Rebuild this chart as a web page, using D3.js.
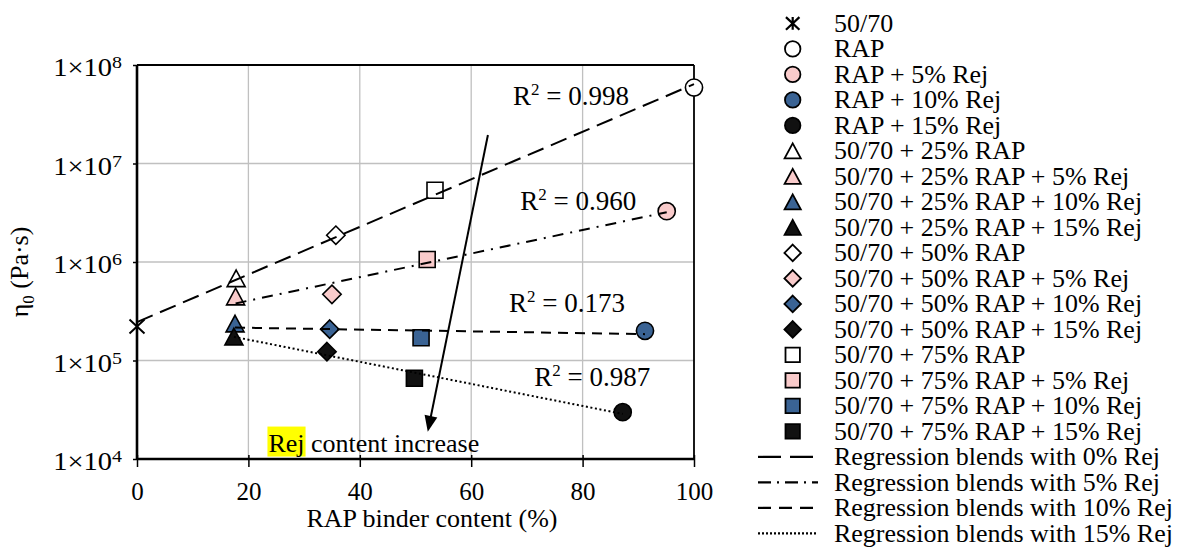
<!DOCTYPE html>
<html>
<head>
<meta charset="utf-8">
<script src="https://cdnjs.cloudflare.com/ajax/libs/d3/7.8.5/d3.min.js"></script>
<style>
  body { margin: 0; background: #fff; }
  svg, svg text, svg tspan { font-family: 'Liberation Serif', 'Times New Roman', 'DejaVu Serif', serif; fill: #000; }
</style>
</head>
<body>
<div id="chart"></div>
<script>
// one point per blend
var seriesLabels = [
  '50/70', 'RAP', 'RAP + 5% Rej', 'RAP + 10% Rej', 'RAP + 15% Rej',
  '50/70 + 25% RAP', '50/70 + 25% RAP + 5% Rej', '50/70 + 25% RAP + 10% Rej', '50/70 + 25% RAP + 15% Rej',
  '50/70 + 50% RAP', '50/70 + 50% RAP + 5% Rej', '50/70 + 50% RAP + 10% Rej', '50/70 + 50% RAP + 15% Rej',
  '50/70 + 75% RAP', '50/70 + 75% RAP + 5% Rej', '50/70 + 75% RAP + 10% Rej', '50/70 + 75% RAP + 15% Rej'
];
var rapBinder = [0, 100, 95.1, 91.2, 87.2, 17.8, 17.7, 17.6, 17.4, 35.7, 35.0, 34.6, 34.1, 53.5, 52.1, 51.0, 49.8];
var eta0 = [2.21e5, 5.9e7, 3.28e6, 2.0e5, 2.99e4, 6.83e5, 4.46e5, 2.37e5, 1.75e5, 1.87e6, 4.7e5, 2.08e5, 1.23e5, 5.36e6, 1.06e6, 1.7e5, 6.6e4];
var rejContent = [0, 0, 5, 10, 15, 0, 5, 10, 15, 0, 5, 10, 15, 0, 5, 10, 15];
var blendType = ['binder', 'rap', 'rap', 'rap', 'rap', 'rap25', 'rap25', 'rap25', 'rap25',
  'rap50', 'rap50', 'rap50', 'rap50', 'rap75', 'rap75', 'rap75', 'rap75'];

var regressionRej = [0, 5, 10, 15];
var regressionLabels = ['Regression blends with 0% Rej', 'Regression blends with 5% Rej',
  'Regression blends with 10% Rej', 'Regression blends with 15% Rej'];
var r2Text = ['0.998', '0.960', '0.173', '0.987'];

var xTicks = [0, 20, 40, 60, 80, 100];
var yTickExp = [4, 5, 6, 7, 8];

// annotation placement, in data units
var r2At = [[67.5, 3.93e7], [68.8, 3.36e6], [66.8, 3.12e5], [71.3, 5.45e4]];
var arrowFrom = [63.0, 1.95e7], arrowTo = [52.2, 1.89e4];
var noteAt = [23.6, 1.19e4];

// styles
var FONT = "'Liberation Serif', 'Times New Roman', serif";
var shapeOf = { binder: 'asterisk', rap: 'circle', rap25: 'triangle', rap50: 'diamond', rap75: 'square' };
var fillOf = { 0: '#ffffff', 5: '#f9cbcb', 10: '#3a6394', 15: '#111111' };
var dashOf = { 0: '17,8', 5: '11,7,2,7', 10: '10,7', 15: '2,2.6' };
var legendDashOf = { 0: '23,9', 5: '13,6,2,6', 10: '13,8', 15: '2,2' };

var svg = d3.select('#chart').append('svg')
  .attr('width', 1193).attr('height', 553)
  .attr('font-family', FONT)
  .style('font-family', FONT)
  .style('background', '#fff');

var x = d3.scaleLinear().domain([0, 100]).range([137, 694]);
var y = d3.scaleLog().domain([1e4, 1e8]).range([459, 65]);

function markerPath(shape, k) {
  var s;
  if (shape === 'circle') {
    s = 8.6 * k;
    return 'M' + s + ',0A' + s + ',' + s + ' 0 1,1 ' + (-s) + ',0A' + s + ',' + s + ' 0 1,1 ' + s + ',0Z';
  }
  if (shape === 'triangle') {
    var w = 9 * k, h = 8.3 * k;
    return 'M0,' + (-h) + 'L' + w + ',' + h + 'L' + (-w) + ',' + h + 'Z';
  }
  if (shape === 'diamond') {
    s = 9.2 * k;
    return 'M0,' + (-s) + 'L' + s + ',0L0,' + s + 'L' + (-s) + ',0Z';
  }
  if (shape === 'square') {
    s = 8 * k;
    return 'M' + (-s) + ',' + (-s) + 'H' + s + 'V' + s + 'H' + (-s) + 'Z';
  }
  // asterisk: an X with a vertical bar
  var a = 7.5 * k, b = 7 * k;
  return 'M' + (-a) + ',' + (-b) + 'L' + a + ',' + b + 'M' + (-a) + ',' + b + 'L' + a + ',' + (-b) +
    'M0,' + (-b) + 'L0,' + b;
}

function addText(sel) {
  return sel.append('text').style('font-family', FONT);
}

// grid
var grid = svg.append('g');
grid.selectAll('line.gx').data(xTicks.slice(1, -1)).enter().append('line')
  .attr('x1', function(d) { return x(d); }).attr('x2', function(d) { return x(d); })
  .attr('y1', y(1e8)).attr('y2', y(1e4))
  .attr('stroke', '#c0c0c0').attr('stroke-width', 1.3);
grid.selectAll('line.gy').data(yTickExp.slice(1, -1)).enter().append('line')
  .attr('x1', x(0)).attr('x2', x(100))
  .attr('y1', function(d) { return y(Math.pow(10, d)); }).attr('y2', function(d) { return y(Math.pow(10, d)); })
  .attr('stroke', '#c0c0c0').attr('stroke-width', 1.3);

// border
svg.append('line').attr('x1', x(0)).attr('x2', x(100)).attr('y1', y(1e8)).attr('y2', y(1e8))
  .attr('stroke', '#000').attr('stroke-width', 1.8);
svg.append('line').attr('x1', x(100)).attr('x2', x(100)).attr('y1', y(1e8)).attr('y2', y(1e4))
  .attr('stroke', '#000').attr('stroke-width', 1.8);

// y axis
var yAxis = svg.append('g').attr('transform', 'translate(' + x(0) + ',0)')
  .call(d3.axisLeft(y).tickValues(yTickExp.map(function(e) { return Math.pow(10, e); }))
    .tickSize(4).tickFormat(''));
yAxis.attr('font-family', FONT).attr('font-size', null);
yAxis.select('.domain').attr('stroke', '#000').attr('stroke-width', 2.6).attr('d', 'M0,' + y(1e8) + 'V' + y(1e4));
yAxis.selectAll('.tick line').attr('stroke', '#000').attr('stroke-width', 1.5);
yAxis.selectAll('.tick text').each(function(d) {
  var t = d3.select(this);
  t.attr('x', 0).attr('dy', null).attr('y', 0).attr('text-anchor', 'end')
    .attr('transform', 'translate(-15,10.5) scale(1.14,1)')
    .style('font-family', FONT).style('font-size', '25px').text('1\u00d710');
  t.append('tspan').attr('dy', -8).style('font-size', '17.5px').text(Math.round(Math.log10(d)));
});

// x axis
var xAxis = svg.append('g').attr('transform', 'translate(0,' + y(1e4) + ')')
  .call(d3.axisBottom(x).tickValues(xTicks).tickSize(8));
xAxis.attr('font-family', FONT).attr('font-size', null);
xAxis.select('.domain').attr('stroke', '#000').attr('stroke-width', 2.6).attr('d', 'M' + x(0) + ',0H' + x(100));
xAxis.selectAll('.tick line').attr('stroke', '#000').attr('stroke-width', 1.5).attr('y1', -4);
xAxis.selectAll('.tick text').attr('y', 41).attr('dy', null)
  .style('font-family', FONT).style('font-size', '25px');

// axis titles
var yTitle = addText(svg).attr('transform', 'translate(28,272) rotate(-90)')
  .attr('text-anchor', 'middle').style('font-size', '26px');
yTitle.append('tspan').text('\u03b7');
yTitle.append('tspan').attr('dy', 6).style('font-size', '17px').text('0');
yTitle.append('tspan').attr('dy', -6).text(' (Pa\u00b7s)');

addText(svg).attr('x', 432).attr('y', 527).attr('text-anchor', 'middle')
  .style('font-size', '26px').text('RAP binder content (%)');

// markers
svg.append('g').selectAll('path').data(seriesLabels).enter().append('path')
  .attr('transform', function(d, i) { return 'translate(' + x(rapBinder[i]) + ',' + y(eta0[i]) + ')'; })
  .attr('d', function(d, i) { return markerPath(shapeOf[blendType[i]], 1); })
  .attr('fill', function(d, i) { return blendType[i] === 'binder' ? 'none' : fillOf[rejContent[i]]; })
  .attr('stroke', '#000')
  .attr('stroke-width', function(d, i) { return blendType[i] === 'binder' ? 2 : 1.6; });

// regression lines: least squares of log10(eta0) on RAP binder content
var line = d3.line().x(function(p) { return x(p[0]); }).y(function(p) { return y(p[1]); });
var fits = regressionRej.map(function(rej) {
  var idx = d3.range(seriesLabels.length).filter(function(i) {
    return rejContent[i] === rej && (rej === 0 || blendType[i] !== 'binder');
  });
  var xs = idx.map(function(i) { return rapBinder[i]; });
  var ys = idx.map(function(i) { return Math.log10(eta0[i]); });
  var mx = d3.mean(xs), my = d3.mean(ys);
  var sxy = d3.sum(xs, function(v, j) { return (v - mx) * (ys[j] - my); });
  var sxx = d3.sum(xs, function(v) { return (v - mx) * (v - mx); });
  var b = sxy / sxx, a = my - b * mx;
  var x0 = d3.min(xs), x1 = d3.max(xs);
  return { rej: rej, pts: [[x0, Math.pow(10, a + b * x0)], [x1, Math.pow(10, a + b * x1)]] };
});
svg.append('g').selectAll('path').data(fits).enter().append('path')
  .attr('d', function(f) { return line(f.pts); })
  .attr('fill', 'none').attr('stroke', '#000').attr('stroke-width', 2)
  .attr('stroke-dasharray', function(f) { return dashOf[f.rej]; });

// R² labels
r2Text.forEach(function(v, i) {
  var t = addText(svg).attr('x', x(r2At[i][0])).attr('y', y(r2At[i][1])).style('font-size', '27px');
  t.append('tspan').text('R');
  t.append('tspan').attr('dy', -10).style('font-size', '17px').text('2');
  t.append('tspan').attr('dy', 10).text(' = ' + v);
});

// arrow
var ax0 = x(arrowFrom[0]), ay0 = y(arrowFrom[1]), ax1 = x(arrowTo[0]), ay1 = y(arrowTo[1]);
var len = Math.hypot(ax1 - ax0, ay1 - ay0), ux = (ax1 - ax0) / len, uy = (ay1 - ay0) / len;
var headL = 16, headW = 6.5;
svg.append('line').attr('x1', ax0).attr('y1', ay0)
  .attr('x2', ax1 - ux * headL * 0.8).attr('y2', ay1 - uy * headL * 0.8)
  .attr('stroke', '#000').attr('stroke-width', 2);
svg.append('path')
  .attr('d', 'M' + ax1 + ',' + ay1 +
    'L' + (ax1 - ux * headL - uy * headW) + ',' + (ay1 - uy * headL + ux * headW) +
    'L' + (ax1 - ux * headL + uy * headW) + ',' + (ay1 - uy * headL - ux * headW) + 'Z')
  .attr('fill', '#000');

// note with highlighted "Rej"
var nx = x(noteAt[0]), ny = y(noteAt[1]);
var rejWord = addText(svg).attr('x', nx).attr('y', ny).style('font-size', '26px').text('Rej');
var bb = rejWord.node().getBBox();
svg.insert('rect', function() { return rejWord.node(); })
  .attr('x', nx - 1).attr('y', ny - 25).attr('width', bb.width + 2).attr('height', 30)
  .attr('fill', '#ffff00');
addText(svg).attr('x', nx + bb.width).attr('y', ny).style('font-size', '26px')
  .attr('xml:space', 'preserve').text(' content increase');

// legend
var legendX = 792.7, legendTextX = 834, legendTop = 31.7, legendStep = 25.5;
var legend = svg.append('g');
seriesLabels.forEach(function(lbl, i) {
  var by = legendTop + legendStep * i;
  legend.append('path')
    .attr('transform', 'translate(' + legendX + ',' + (by - 8.3) + ')')
    .attr('d', markerPath(shapeOf[blendType[i]], 0.9))
    .attr('fill', blendType[i] === 'binder' ? 'none' : fillOf[rejContent[i]])
    .attr('stroke', '#000').attr('stroke-width', blendType[i] === 'binder' ? 2.2 : 1.8);
  addText(legend)
    .attr('transform', 'translate(' + legendTextX + ',' + by + ') scale(1.06,1)')
    .style('font-size', '24.5px').text(lbl);
});
regressionLabels.forEach(function(lbl, j) {
  var by = legendTop + legendStep * (seriesLabels.length + j);
  legend.append('line').attr('x1', 758).attr('x2', 818).attr('y1', by - 8.3).attr('y2', by - 8.3)
    .attr('stroke', '#000').attr('stroke-width', 2.2)
    .attr('stroke-dasharray', legendDashOf[regressionRej[j]]);
  addText(legend)
    .attr('transform', 'translate(' + legendTextX + ',' + by + ') scale(1.06,1)')
    .style('font-size', '24.5px').text(lbl);
});
</script>
</body>
</html>
